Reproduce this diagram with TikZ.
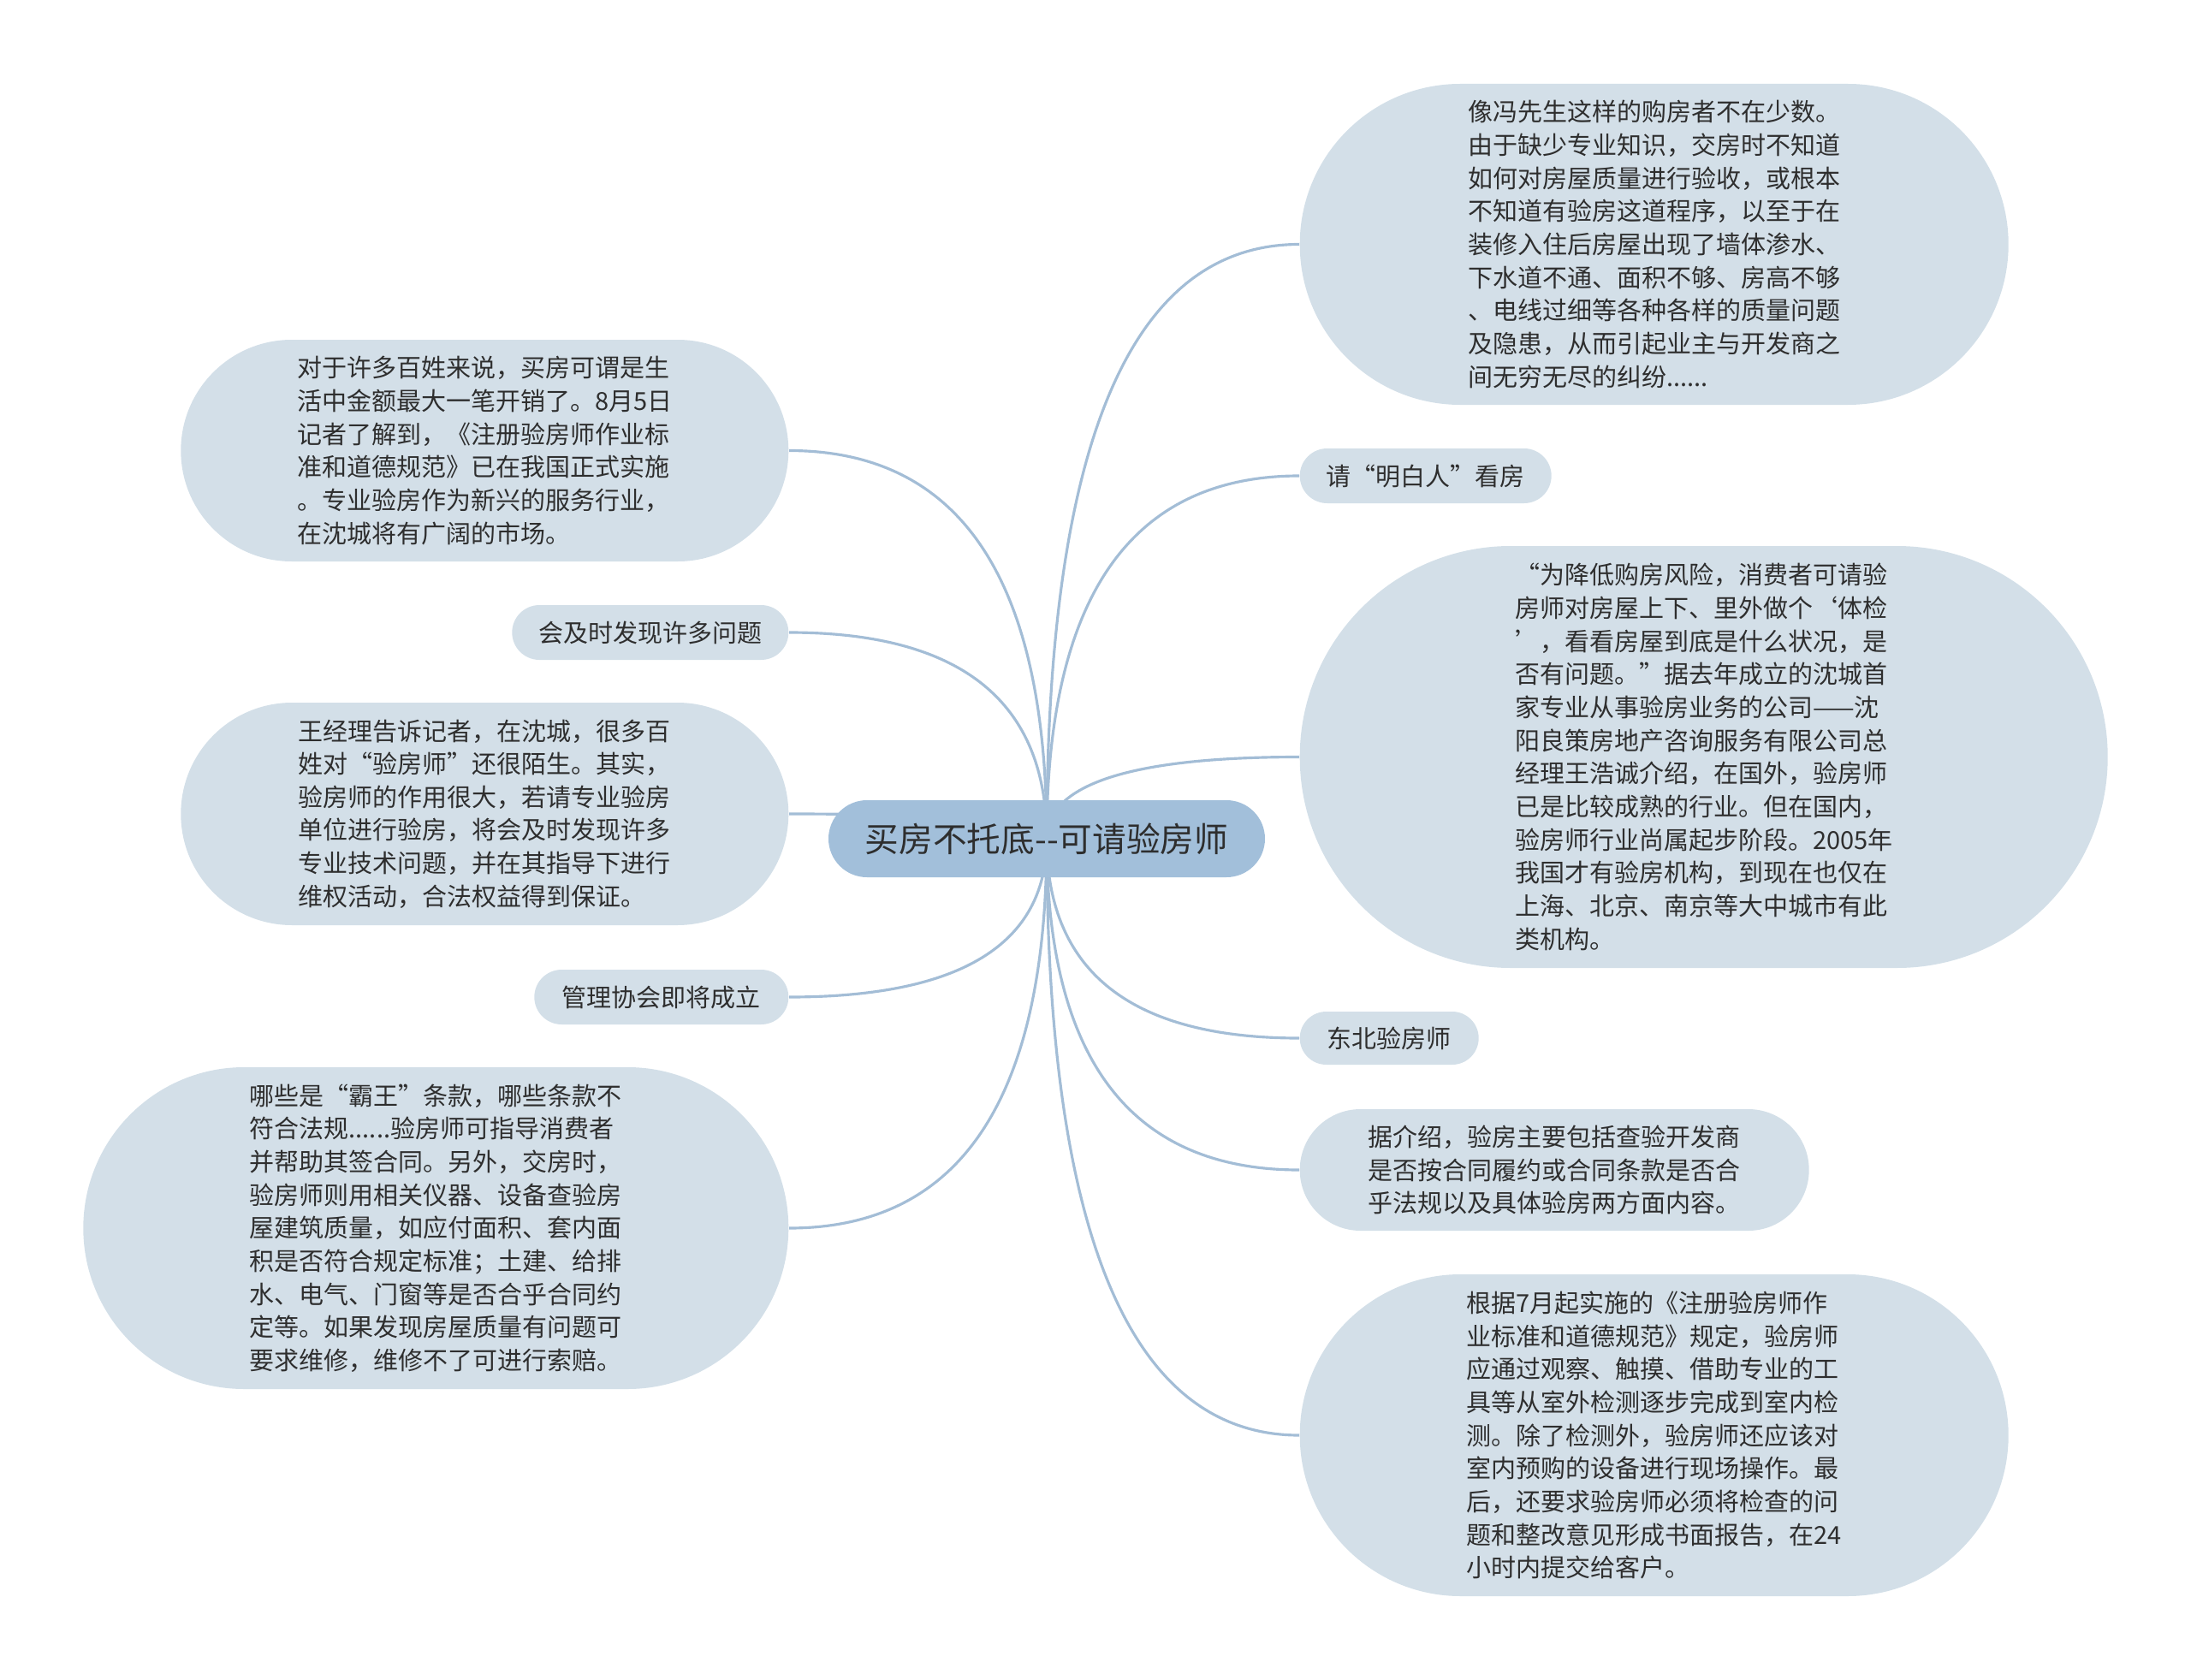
\documentclass[tikz,border=0pt]{standalone}
\usepackage{fontspec}
\setmainfont{Noto Sans CJK SC}
\usetikzlibrary{calc,backgrounds}
\definecolor{leafblue}{HTML}{D3DFE8}
\definecolor{rootblue}{HTML}{A2BFDA}
\definecolor{linkblue}{HTML}{A3BDD6}
\definecolor{inkgray}{HTML}{2E2E2E}
\newcommand{\leaffont}{\fontsize{8.25pt}{11pt}\selectfont}
\newcommand{\rootfont}{\fontsize{11.3pt}{13pt}\selectfont}
% curved branch from the root to a leaf anchor
\newcommand{\branch}[1]{%
 \draw[link] (root.center) .. controls ($(root.center)!2/3!(root.center|-#1)$)
 and ($(#1)!2/3!(root.center|-#1)$) .. (#1);}

\begin{document}
\begin{tikzpicture}[
 leaf/.style={fill=leafblue,text=inkgray,align=left,inner sep=0pt,font=\leaffont},
 pill/.style={leaf,minimum height=0.64cm,rounded corners=0.32cm},
 link/.style={draw=linkblue,line width=0.9pt}]
\useasboundingbox (0,0) rectangle (25.6,-19.63);

\node[fill=rootblue,text=inkgray,font=\rootfont,inner sep=0pt,
 minimum width=5.1cm,minimum height=0.9cm,rounded corners=0.45cm]
 (root) at (12.23,-9.80) {买房不托底-{}-可请验房师};

% left side
\node[leaf,anchor=east,minimum width=7.1cm,minimum height=2.59cm,rounded corners=1.295cm]
 (kaixiao) at (9.22,-5.265)
 {对于许多百姓来说，买房可谓是生\\活中金额最大一笔开销了。8月5日\\记者了解到，《注册验房师作业标\\准和道德规范》已在我国正式实施\\。专业验房作为新兴的服务行业，\\在沈城将有广阔的市场。};
\node[pill,anchor=east,minimum width=3.23cm] (faxian) at (9.22,-7.39) {会及时发现许多问题};
\node[leaf,anchor=east,minimum width=7.1cm,minimum height=2.6cm,rounded corners=1.3cm]
 (wangjingli) at (9.22,-9.51)
 {王经理告诉记者，在沈城，很多百\\姓对“验房师”还很陌生。其实，\\验房师的作用很大，若请专业验房\\单位进行验房，将会及时发现许多\\专业技术问题，并在其指导下进行\\维权活动，合法权益得到保证。};
\node[pill,anchor=east,minimum width=2.97cm] (xiehui) at (9.22,-11.65) {管理协会即将成立};
\node[leaf,anchor=east,minimum width=8.24cm,minimum height=3.76cm,rounded corners=1.88cm]
 (bawang) at (9.22,-14.35)
 {哪些是“霸王”条款，哪些条款不\\符合法规......验房师可指导消费者\\并帮助其签合同。另外，交房时，\\验房师则用相关仪器、设备查验房\\屋建筑质量，如应付面积、套内面\\积是否符合规定标准；土建、给排\\水、电气、门窗等是否合乎合同约\\定等。如果发现房屋质量有问题可\\要求维修，维修不了可进行索赔。};

% right side
\node[leaf,anchor=west,minimum width=8.28cm,minimum height=3.75cm,rounded corners=1.875cm]
 (goufang) at (15.18,-2.855)
 {像冯先生这样的购房者不在少数。\\由于缺少专业知识，交房时不知道\\如何对房屋质量进行验收，或根本\\不知道有验房这道程序，以至于在\\装修入住后房屋出现了墙体渗水、\\下水道不通、面积不够、房高不够\\、电线过细等各种各样的质量问题\\及隐患，从而引起业主与开发商之\\间无穷无尽的纠纷......};
\node[pill,anchor=west,minimum width=2.94cm] (mingbairen) at (15.18,-5.56) {请“明白人”看房};
\node[leaf,anchor=west,minimum width=9.44cm,minimum height=4.93cm,rounded corners=2.465cm]
 (fengxian) at (15.18,-8.845)
 {“为降低购房风险，消费者可请验\\房师对房屋上下、里外做个‘体检\\’，看看房屋到底是什么状况，是\\否有问题。”据去年成立的沈城首\\家专业从事验房业务的公司——沈\\阳良策房地产咨询服务有限公司总\\经理王浩诚介绍，在国外，验房师\\已是比较成熟的行业。但在国内，\\验房师行业尚属起步阶段。2005年\\我国才有验房机构，到现在也仅在\\上海、北京、南京等大中城市有此\\类机构。};
\node[pill,anchor=west,minimum width=2.09cm,minimum height=0.62cm,rounded corners=0.31cm]
 (dongbei) at (15.18,-12.13) {东北验房师};
\node[leaf,anchor=west,minimum width=5.95cm,minimum height=1.42cm,rounded corners=0.71cm]
 (baokuo) at (15.18,-13.67)
 {据介绍，验房主要包括查验开发商\\是否按合同履约或合同条款是否合\\乎法规以及具体验房两方面内容。};
\node[leaf,anchor=west,minimum width=8.28cm,minimum height=3.76cm,rounded corners=1.88cm]
 (guifan) at (15.18,-16.77)
 {根据7月起实施的《注册验房师作\\业标准和道德规范》规定，验房师\\应通过观察、触摸、借助专业的工\\具等从室外检测逐步完成到室内检\\测。除了检测外，验房师还应该对\\室内预购的设备进行现场操作。最\\后，还要求验房师必须将检查的问\\题和整改意见形成书面报告，在24\\小时内提交给客户。};

\begin{scope}[on background layer]
\foreach \leafname in {kaixiao,faxian,wangjingli,xiehui,bawang}
 {\branch{\leafname.east}}
\foreach \leafname in {goufang,mingbairen,fengxian,dongbei,baokuo,guifan}
 {\branch{\leafname.west}}
\end{scope}
\end{tikzpicture}
\end{document}
